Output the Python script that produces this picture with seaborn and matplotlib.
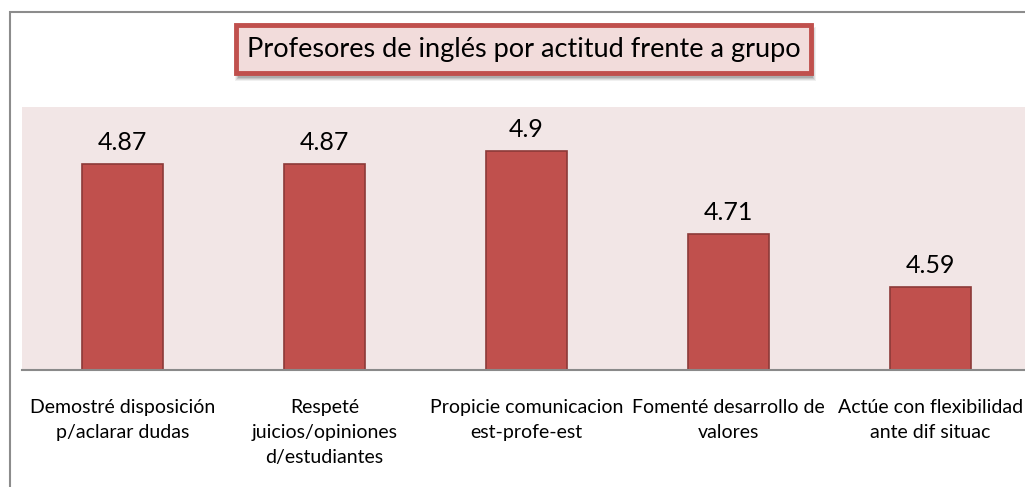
import numpy as np
import pandas as pd
import matplotlib
matplotlib.use("Agg")
import matplotlib.pyplot as plt
import seaborn as sns
from matplotlib.patches import Rectangle

# ---------- DATA ----------
TITLE = "Profesores de inglés por actitud frente a grupo"
categories = [
    "Demostré disposición\np/aclarar dudas",
    "Respeté\njuicios/opiniones\nd/estudiantes",
    "Propicie comunicacion\nest-profe-est",
    "Fomenté desarrollo de\nvalores",
    "Actúe con flexibilidad\nante dif situac",
]
values = [4.87, 4.87, 4.9, 4.71, 4.59]
value_labels = ["4.87", "4.87", "4.9", "4.71", "4.59"]

# ---------- STYLE ----------
BAR_COLOR = "#C0504D"
BAR_EDGE = "#8C3A38"
PLOT_BG = "#F2E6E6"
W, H = 1025, 487

sns.set_style("white")
plt.rcParams["font.family"] = ["Lato", "DejaVu Sans"]

df = pd.DataFrame({"cat": categories, "val": values})

fig = plt.figure(figsize=(W / 100, H / 100), dpi=100)
ax = fig.add_axes([21.5 / W, 1 - 370 / H, 1010 / W, 263 / H])
ax.set_facecolor(PLOT_BG)

sns.barplot(data=df, x="cat", y="val", color=BAR_COLOR, width=0.4,
            edgecolor=BAR_EDGE, linewidth=1.2, saturation=1, ax=ax)

ax.set_ylim(4.4, 5.0)
ax.set_xlim(-0.5, 4.5)
ax.set_xlabel("")
ax.set_ylabel("")
ax.set_yticks([])
ax.set_xticks(range(len(categories)))
ax.set_xticklabels(categories, linespacing=1.55)
ax.tick_params(axis="x", length=0, pad=21, labelsize=14, colors="black")
for s in ["top", "right", "left"]:
    ax.spines[s].set_visible(False)
ax.spines["bottom"].set_color("#8A8A8A")
ax.spines["bottom"].set_linewidth(1.5)

for cont in ax.containers:
    ax.bar_label(cont, labels=value_labels, padding=7, fontsize=18, color="black")

# outer chart border (cropped at right/bottom)
fig.patches.append(Rectangle((10 / W, -0.1), 1.2, 1 - 12 / H + 0.1,
                             transform=fig.transFigure, fill=False,
                             edgecolor="#8C8C8C", linewidth=1.5, zorder=0))

# title box with soft shadow
bx0, bx1, by0, by1 = 236, 811, 25, 73
for i, a in enumerate([0.06, 0.08, 0.1, 0.12]):
    g = 3 - i
    fig.patches.append(Rectangle(((bx0 + 2 - g) / W, 1 - (by1 + 5 + g) / H),
                                 (bx1 - bx0 + 2 * g) / W, (by1 - by0 + 2 * g) / H,
                                 transform=fig.transFigure, facecolor="black",
                                 edgecolor="none", alpha=a, zorder=1))
fig.patches.append(Rectangle((bx0 / W, 1 - by1 / H), (bx1 - bx0) / W, (by1 - by0) / H,
                             transform=fig.transFigure, facecolor="#F2DCDB",
                             edgecolor=BAR_COLOR, linewidth=3.5, zorder=2))
fig.text((bx0 + bx1) / 2 / W, 1 - (by0 + by1) / 2 / H, TITLE, ha="center",
         va="center", fontsize=19.5, color="black", zorder=3)

plt.savefig("out.png", dpi=100)
plt.close()
